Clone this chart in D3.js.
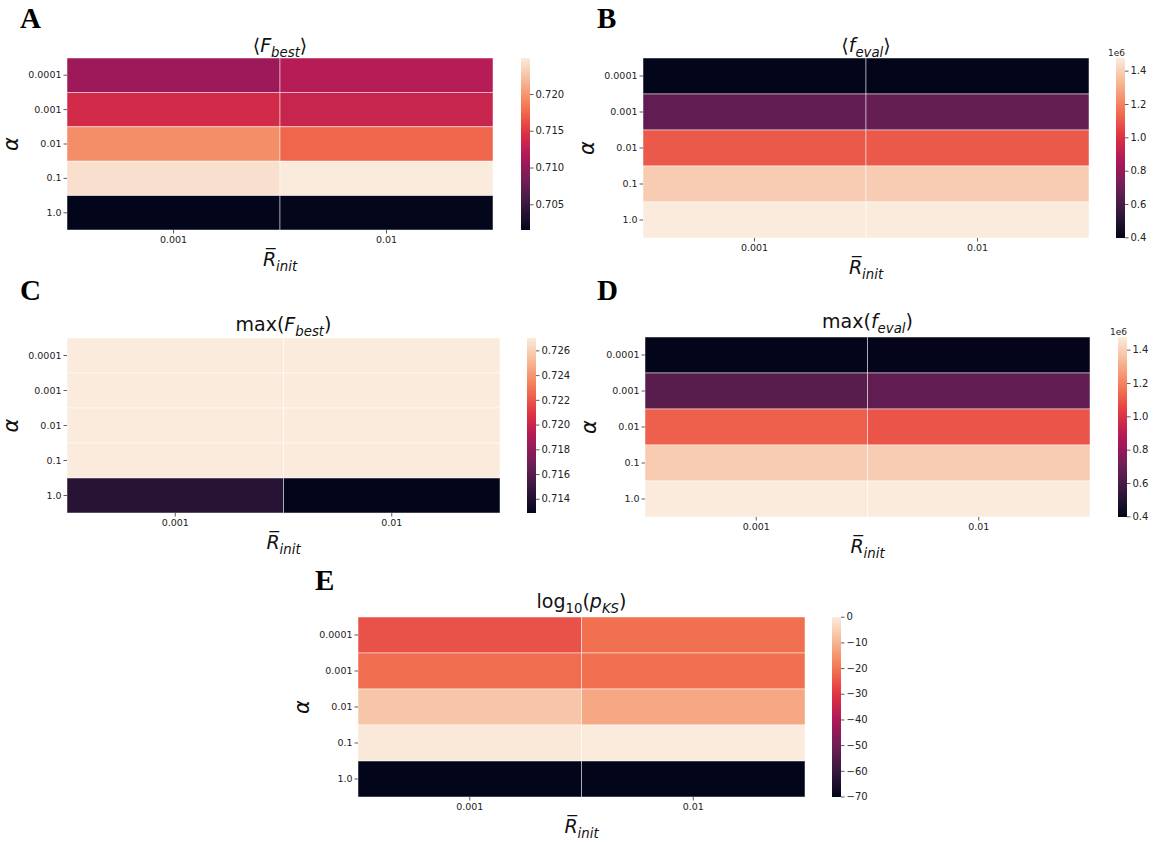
<!DOCTYPE html>
<html>
<head>
<meta charset="utf-8">
<script src="https://cdn.jsdelivr.net/npm/d3@7"></script>
<style>
  body { margin: 0; background: #fff; }
  text { font-family: "DejaVu Sans", sans-serif; fill: #222; }
</style>
</head>
<body>
<div id="fig"></div>
<script>
// rows / columns shared by every panel
var alphas = ["0.0001", "0.001", "0.01", "0.1", "1.0"];
var rInit = ["0.001", "0.01"];

// cell values, one row per alpha, [R=0.001, R=0.01]
var meanFbest = [[0.7107, 0.7121], [0.7139, 0.7132], [0.7195, 0.7174], [0.7242, 0.7249], [0.7015, 0.7016]];
var meanFeval = [[0.396, 0.398], [0.665, 0.675], [1.10, 1.10], [1.39, 1.39], [1.476, 1.476]];
var maxFbest = [[0.7270, 0.7270], [0.7270, 0.7270], [0.7270, 0.7270], [0.7270, 0.7270], [0.7143, 0.71285]];
var maxFeval = [[0.396, 0.398], [0.645, 0.665], [1.12, 1.09], [1.39, 1.39], [1.476, 1.476]];
var logPks = [[-25.5, -21], [-21.5, -21], [-7, -12], [-0.6, -0.1], [-70.2, -70.2]];

// colorbar ticks
var ticksA = [0.705, 0.710, 0.715, 0.720];
var ticksB = [0.4, 0.6, 0.8, 1.0, 1.2, 1.4];
var ticksC = [0.714, 0.716, 0.718, 0.720, 0.722, 0.724, 0.726];
var ticksD = [0.4, 0.6, 0.8, 1.0, 1.2, 1.4];
var ticksE = [0, -10, -20, -30, -40, -50, -60, -70];

// seaborn "rocket" approximated with a few stops
var rocketStops = ["#03051a", "#35193e", "#701f57", "#ad1759", "#e13342", "#f37651", "#f6b48f", "#faebdd"];
var rocket = d3.scaleLinear()
  .domain(d3.range(rocketStops.length).map(function(i){ return i / (rocketStops.length - 1); }))
  .range(rocketStops)
  .interpolate(d3.interpolateRgb);

var width = 1158, height = 844;
var svg = d3.select("#fig").append("svg")
  .attr("width", width)
  .attr("height", height);
svg.append("rect").attr("width", width).attr("height", height).attr("fill", "#fff");

var defs = svg.append("defs");

// math-ish text: segments of {t, it, sub}
function mathText(sel, parts, size) {
  parts.forEach(function(p, i) {
    var prev = i > 0 ? parts[i-1] : null;
    var dy = 0;
    if (p.sub && !(prev && prev.sub)) dy = size * 0.25;
    if (!p.sub && prev && prev.sub) dy = -size * 0.25;
    sel.append("tspan")
      .attr("dy", dy)
      .style("font-style", p.it ? "italic" : "normal")
      .style("font-size", (p.sub ? size * 0.7 : size) + "px")
      .text(p.t);
  });
}

var rLabel = [{t: "R\u0305", it: true}, {t: "init", it: true, sub: true}];

var panels = [
  {letter: "A", lx: 20, ly: 28, x0: 67, x1: 493, y0: 58, y1: 230, cbx: 521, values: meanFbest, ticks: ticksA,
   fmt: d3.format(".3f"), exp: null, ty: 52,
   title: [{t: "\u27e8"}, {t: "F", it: true}, {t: "best", it: true, sub: true}, {t: "\u27e9"}]},
  {letter: "B", lx: 597, ly: 28, x0: 643, x1: 1089, y0: 58, y1: 238, cbx: 1116, values: meanFeval, ticks: ticksB,
   fmt: d3.format(".1f"), exp: "1e6", ty: 52,
   title: [{t: "\u27e8"}, {t: "f", it: true}, {t: "eval", it: true, sub: true}, {t: "\u27e9"}]},
  {letter: "C", lx: 20, ly: 300, x0: 67, x1: 500, y0: 338, y1: 513, cbx: 527, values: maxFbest, ticks: ticksC,
   fmt: d3.format(".3f"), exp: null, ty: 331,
   title: [{t: "max("}, {t: "F", it: true}, {t: "best", it: true, sub: true}, {t: ")"}]},
  {letter: "D", lx: 597, ly: 300, x0: 645, x1: 1090, y0: 337, y1: 517, cbx: 1118, values: maxFeval, ticks: ticksD,
   fmt: d3.format(".1f"), exp: "1e6", ty: 328,
   title: [{t: "max("}, {t: "f", it: true}, {t: "eval", it: true, sub: true}, {t: ")"}]},
  {letter: "E", lx: 315, ly: 590, x0: 358, x1: 805, y0: 617, y1: 797, cbx: 832, values: logPks, ticks: ticksE,
   fmt: function(v){ return v < 0 ? "\u2212" + Math.abs(v) : String(v); }, exp: null, ty: 608,
   title: [{t: "log"}, {t: "10", sub: true}, {t: "("}, {t: "p", it: true}, {t: "KS", it: true, sub: true}, {t: ")"}]}
];

panels.forEach(function(p, pi) {
  var g = svg.append("g");
  var flat = [];
  p.values.forEach(function(row, i) {
    row.forEach(function(v, j) { flat.push({a: alphas[i], r: rInit[j], v: v}); });
  });
  var ext = d3.extent(flat, function(d){ return d.v; });
  var norm = d3.scaleLinear().domain(ext).range([0, 1]);

  var x = d3.scaleBand().domain(rInit).range([p.x0, p.x1]);
  var y = d3.scaleBand().domain(alphas).range([p.y0, p.y1]);

  // panel letter
  g.append("text")
    .attr("x", p.lx).attr("y", p.ly)
    .style("font-family", "'Liberation Serif', serif")
    .style("font-weight", "bold")
    .style("font-size", "29px")
    .style("fill", "#000")
    .text(p.letter);

  // title
  var t = g.append("text")
    .attr("x", (p.x0 + p.x1) / 2).attr("y", p.ty)
    .attr("text-anchor", "middle")
    .style("fill", "#111");
  mathText(t, p.title, 19);

  // cells
  g.selectAll("rect.cell")
    .data(flat)
    .enter().append("rect")
    .attr("class", "cell")
    .attr("x", function(d){ return x(d.r); })
    .attr("y", function(d){ return y(d.a); })
    .attr("width", x.bandwidth())
    .attr("height", y.bandwidth())
    .attr("fill", function(d){ return rocket(norm(d.v)); })
    .attr("stroke", "#fff")
    .attr("stroke-opacity", 0.6)
    .attr("stroke-width", 0.8);

  // y axis
  var ya = g.append("g").attr("transform", "translate(" + p.x0 + ",0)")
    .call(d3.axisLeft(y).tickSize(3.5).tickPadding(2));
  ya.select(".domain").remove();
  ya.selectAll("line").attr("stroke", "#333").attr("stroke-width", 0.8);
  ya.selectAll("text").style("font-size", "9.5px").style("font-family", "'DejaVu Sans'").attr("fill", "#222");

  // x axis
  var xa = g.append("g").attr("transform", "translate(0," + p.y1 + ")")
    .call(d3.axisBottom(x).tickSize(3.5).tickPadding(3));
  xa.select(".domain").remove();
  xa.selectAll("line").attr("stroke", "#333").attr("stroke-width", 0.8);
  xa.selectAll("text").style("font-size", "9.5px").style("font-family", "'DejaVu Sans'").attr("fill", "#222");

  // axis labels
  var xl = g.append("text")
    .attr("x", (p.x0 + p.x1) / 2).attr("y", p.y1 + 36)
    .attr("text-anchor", "middle")
    .style("fill", "#111");
  mathText(xl, rLabel, 19);

  g.append("text")
    .attr("transform", "translate(" + (p.x0 - 49) + "," + ((p.y0 + p.y1) / 2) + ") rotate(-90)")
    .attr("text-anchor", "middle")
    .style("font-style", "italic")
    .style("font-size", "21px")
    .style("fill", "#111")
    .text("\u03b1");

  // colorbar
  var cbW = 9;
  var gid = "grad" + pi;
  var grad = defs.append("linearGradient").attr("id", gid)
    .attr("x1", 0).attr("y1", 1).attr("x2", 0).attr("y2", 0);
  d3.range(0, 1.0001, 0.05).forEach(function(s) {
    grad.append("stop").attr("offset", s).attr("stop-color", rocket(s));
  });
  g.append("rect")
    .attr("x", p.cbx).attr("y", p.y0)
    .attr("width", cbW).attr("height", p.y1 - p.y0)
    .attr("fill", "url(#" + gid + ")");

  var cy = d3.scaleLinear().domain(ext).range([p.y1, p.y0]);
  var ca = g.append("g").attr("transform", "translate(" + (p.cbx + cbW) + ",0)")
    .call(d3.axisRight(cy).tickValues(p.ticks).tickFormat(p.fmt).tickSize(3.5).tickPadding(2));
  ca.select(".domain").remove();
  ca.selectAll("line").attr("stroke", "#333").attr("stroke-width", 0.8);
  ca.selectAll("text").style("font-size", "10px").style("font-family", "'DejaVu Sans'").attr("fill", "#222");

  if (p.exp) {
    g.append("text")
      .attr("x", p.cbx - 8).attr("y", p.y0 - 2)
      .style("font-size", "9px")
      .style("fill", "#222")
      .text(p.exp);
  }
});
</script>
</body>
</html>
